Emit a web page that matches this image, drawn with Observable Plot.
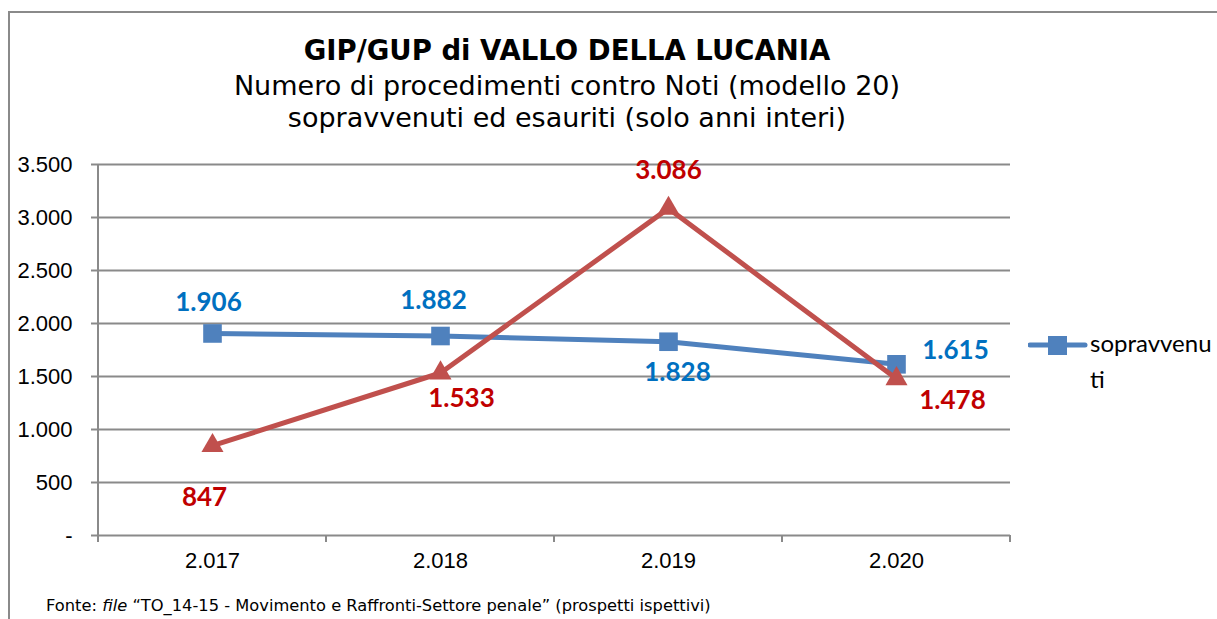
<!DOCTYPE html>
<html>
<head>
<meta charset="utf-8">
<script src="https://cdn.jsdelivr.net/npm/d3@7"></script>
<script src="https://cdn.jsdelivr.net/npm/@observablehq/plot@0.6"></script>
<style>
  body { margin: 0; background: #fff; }
  #wrap { position: relative; width: 1217px; height: 619px; overflow: hidden; background: #fff; }
  #border { position: absolute; left: 8px; top: 11px; width: 1400px; height: 800px;
            border-left: 2px solid #8a8a8a; border-top: 2px solid #8a8a8a; }
  .t { position: absolute; left: 0; width: 1134px; text-align: center; font-family: "DejaVu Sans", sans-serif; color: #000; white-space: nowrap; }
  #title { top: 34px; line-height: 32px; font-size: 27.5px; font-weight: bold; }
  #sub1 { top: 70px; line-height: 32px; font-size: 27px; }
  #sub2 { top: 102px; line-height: 32px; font-size: 27px; }
  #chart { position: absolute; left: 0; top: 140px; }
  #legend { position: absolute; left: 1028px; top: 326px; }
  #legtext { position: absolute; left: 1090px; top: 325px; font-family: Lato, sans-serif; font-size: 24px; line-height: 36px; color: #000; }
  #footer { position: absolute; left: 46px; top: 596px; font-family: "DejaVu Sans", sans-serif; font-size: 16.3px; line-height: 20px; color: #000; white-space: nowrap; }
</style>
</head>
<body>
<div id="wrap">
  <div id="border"></div>
  <div class="t" id="title">GIP/GUP di VALLO DELLA LUCANIA</div>
  <div class="t" id="sub1">Numero di procedimenti contro Noti (modello 20)</div>
  <div class="t" id="sub2">sopravvenuti ed esauriti (solo anni interi)</div>
  <div id="chart"></div>
  <svg id="legend" width="62" height="40"></svg>
  <div id="legtext">sopravvenu<br>ti</div>
  <div id="footer">Fonte: <i>file</i> “TO_14-15 - Movimento e Raffronti-Settore penale” (prospetti ispettivi)</div>
</div>
<script>
// ---- data ----
const years = ["2.017", "2.018", "2.019", "2.020"];
const seriesNames = ["sopravvenuti", "esauriti"];
const sopravvenuti = [1906, 1882, 1828, 1615];
const esauriti = [847, 1533, 3086, 1478];
const yTicks = [0, 500, 1000, 1500, 2000, 2500, 3000, 3500];

// ---- label offsets (pixels, relative to each point) ----
const sopLabelDx = [-4, -7, 9, 59];
const sopLabelDy = [-31, -35, 31, -14];
const esaLabelDx = [-8, 21, 0, 56];
const esaLabelDy = [52, 26, -38, 22];

const blue = "#4F81BD", blueText = "#0070C0";
const red = "#C0504D", redText = "#C00000";
const gridColor = "#8a8a8a";

const fmt = v => v === 0 ? "-" : d3.format(",")(v).replace(/,/g, ".");

const rows = [];
years.forEach((y, i) => rows.push({year: y, series: seriesNames[0], value: sopravvenuti[i], i}));
years.forEach((y, i) => rows.push({year: y, series: seriesNames[1], value: esauriti[i], i}));
const sop = rows.filter(d => d.series === seriesNames[0]);
const esa = rows.filter(d => d.series === seriesNames[1]);

const labelFont = {fontFamily: "Lato, sans-serif", fontSize: 26, fontWeight: "bold", textAnchor: "middle"};

const labelMarks = [
  ...sop.map(d => Plot.text([d], {x: "year", y: "value", text: d => fmt(d.value), fill: blueText, dx: sopLabelDx[d.i], dy: sopLabelDy[d.i], ...labelFont})),
  ...esa.map(d => Plot.text([d], {x: "year", y: "value", text: d => fmt(d.value), fill: redText, dx: esaLabelDx[d.i], dy: esaLabelDy[d.i], ...labelFont}))
];

const chart = Plot.plot({
  width: 1217,
  height: 440,
  marginLeft: 97,
  marginRight: 207,
  marginTop: 24,
  marginBottom: 45,
  style: {background: "transparent", overflow: "visible"},
  x: {type: "point", domain: years, padding: 0.5},
  y: {domain: [0, 3500]},
  marks: [
    Plot.gridY(yTicks.filter(v => v > 0), {stroke: gridColor, strokeOpacity: 1, strokeWidth: 2}),
    Plot.ruleY([0], {stroke: gridColor, strokeWidth: 2}),
    Plot.axisY(yTicks, {tickSize: 6, tickPadding: 19, tickFormat: fmt, stroke: gridColor, strokeWidth: 2,
      fontSize: 22, fontFamily: "'Liberation Sans', Arial, sans-serif", fill: "#000", label: null}),
    Plot.axisX({tickSize: 0, tickPadding: 17, fontSize: 22, fontFamily: "'Liberation Sans', Arial, sans-serif", fill: "#000", label: null}),
    Plot.line(sop, {x: "year", y: "value", stroke: blue, strokeWidth: 5}),
    Plot.dot(sop, {x: "year", y: "value", symbol: "square", r: 10.5, fill: blue, stroke: "none"}),
    Plot.line(esa, {x: "year", y: "value", stroke: red, strokeWidth: 5}),
    Plot.dot(esa, {x: "year", y: "value", symbol: "triangle", r: 8.2, fill: red, stroke: "none"}),
    ...labelMarks
  ]
});

document.getElementById("chart").appendChild(chart);

// category boundary ticks and left axis line, from Plot's own scales
const xs = chart.scale("x"), ys = chart.scale("y");
const pos = years.map(y => xs.apply(y));
const step = pos[1] - pos[0];
const bounds = [...pos.map(p => p - step / 2), pos[pos.length - 1] + step / 2];
const y0 = ys.apply(0), yTop = ys.apply(3500);
const svg = d3.select(chart);
const g = svg.insert("g", ":first-child");
g.selectAll("line.b").data(bounds).join("line")
  .attr("x1", d => d).attr("x2", d => d).attr("y1", y0).attr("y2", y0 + 7)
  .attr("stroke", gridColor).attr("stroke-width", 2);
g.append("line").attr("x1", bounds[0]).attr("x2", bounds[0]).attr("y1", yTop).attr("y2", y0)
  .attr("stroke", gridColor).attr("stroke-width", 2);

// legend swatch
const leg = d3.select("#legend");
leg.append("line").attr("x1", 2).attr("x2", 57).attr("y1", 19).attr("y2", 19).attr("stroke", blue).attr("stroke-width", 5).attr("stroke-linecap", "round");
leg.append("rect").attr("x", 20).attr("y", 10).attr("width", 19).attr("height", 19).attr("fill", blue);
</script>
</body>
</html>
